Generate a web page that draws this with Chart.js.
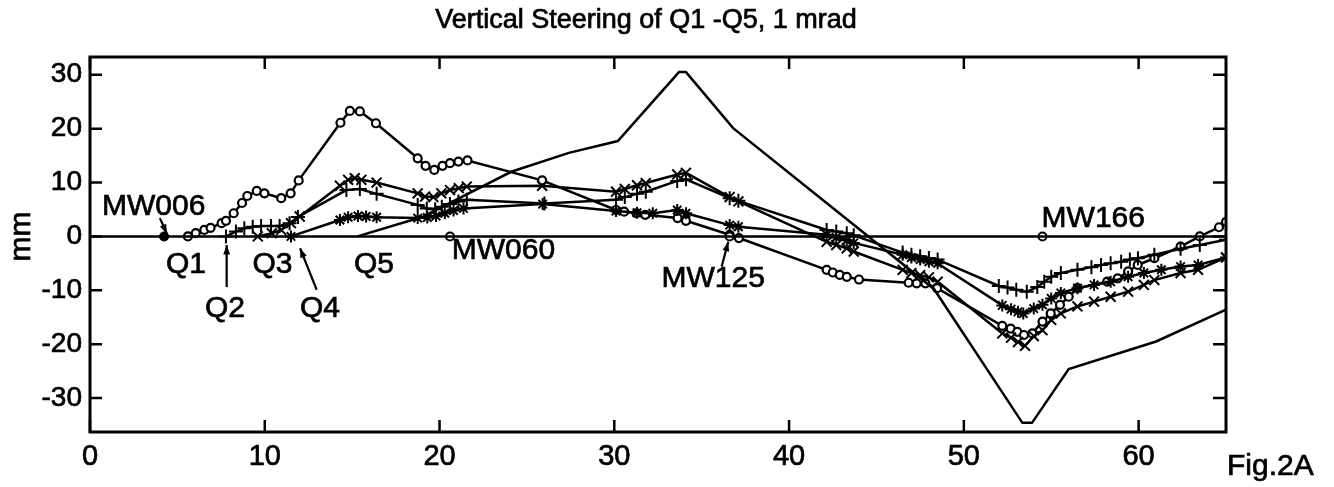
<!DOCTYPE html>
<html>
<head>
<meta charset="utf-8">
<script src="https://cdn.jsdelivr.net/npm/chart.js@4.4.1/dist/chart.umd.min.js"></script>
<style>
  html, body { margin: 0; padding: 0; background: #fff; }
  #chart { display: block; }
</style>
</head>
<body>
<canvas id="chart" width="1334" height="487"></canvas>
<script>
const xTicks = [0, 10, 20, 30, 40, 50, 60];
const yTicks = [-30, -20, -10, 0, 10, 20, 30];

// Q1 steering (circles)
const q1X = [5.6, 6.05, 6.54, 6.9, 7.53, 7.78, 8.22, 8.7, 9.0, 9.54, 9.98, 10.94, 11.48, 11.94, 14.33, 14.87, 15.44, 16.36, 18.75, 19.2, 19.7, 20.17, 20.6, 21.08, 21.6, 25.87, 30.1, 30.56, 31.27, 31.77, 33.62, 34.1, 36.6, 37.13, 42.15, 42.5, 42.9, 43.3, 44.0, 46.84, 47.3, 47.8, 48.47, 52.2, 52.68, 53.06, 53.44, 53.92, 54.5, 54.97, 55.5, 56.0, 56.5, 58.2, 58.8, 59.4, 59.95, 60.9, 62.4, 63.5, 64.6, 65];
const q1Y = [0, 0.6, 1.2, 1.6, 2.45, 2.9, 4.3, 6.2, 7.5, 8.45, 8.0, 7.1, 8.0, 10.4, 21.1, 23.3, 23.2, 21.0, 14.5, 13.1, 12.35, 13.1, 13.6, 13.9, 14.1, 10.4, 4.9, 4.6, 4.3, 4.0, 3.4, 2.9, 0.3, -0.3, -6.2, -6.7, -7.15, -7.5, -8.0, -8.6, -8.7, -8.7, -9.6, -16.6, -17.1, -17.7, -18.3, -18.0, -15.8, -14.3, -12.7, -11.2, -9.6, -8.4, -7.8, -6.5, -5.3, -4.05, -1.9, 0, 1.7, 2.7];

// Q2 steering (+)
const q2X = [7.78, 8.35, 8.83, 9.31, 9.79, 10.36, 10.85, 11.42, 11.9, 14.67, 15.44, 16.4, 18.75, 19.27, 19.75, 20.13, 20.6, 21.08, 21.56, 26.0, 30.1, 30.6, 31.3, 31.8, 33.6, 34.1, 36.6, 37.1, 42.15, 42.7, 43.3, 43.7, 46.5, 47.0, 47.5, 48.0, 48.5, 52.0, 52.5, 53.0, 53.6, 54.2, 54.6, 55.0, 55.55, 56.5, 57.3, 57.85, 58.4, 59.0, 59.5, 59.96, 60.9, 62.4, 63.5, 65];
const q2Y = [0, 0.9, 1.5, 1.8, 1.95, 1.95, 1.95, 2.45, 3.6, 8.6, 8.8, 7.9, 5.85, 5.2, 5.05, 5.5, 6.0, 6.5, 6.8, 6.1, 6.8, 7.3, 7.9, 8.3, 10.3, 10.6, 7.1, 6.6, 1.2, 0.9, 0.6, 0.2, -3.0, -3.4, -3.7, -4.0, -4.3, -9.2, -9.5, -9.9, -10.25, -9.4, -8.4, -7.5, -6.8, -6.2, -5.7, -5.3, -5.0, -4.7, -4.3, -4.05, -3.4, -2.3, -1.6, -0.6];

// Q3 steering (x)
const q3X = [9.6, 10.4, 10.94, 11.5, 12.0, 14.3, 14.77, 15.15, 15.53, 16.4, 18.75, 19.17, 19.65, 20.1, 20.6, 21.1, 21.56, 25.87, 30.1, 30.6, 31.3, 31.8, 33.6, 34.1, 36.6, 37.1, 42.15, 42.7, 43.3, 43.7, 46.5, 47.0, 47.5, 48.0, 48.5, 52.2, 52.7, 53.1, 53.5, 54.0, 54.5, 55.0, 55.55, 56.5, 57.45, 58.4, 59.4, 60.3, 60.9, 62.4, 63.4, 65];
const q3Y = [0, 0.6, 1.2, 2.45, 3.7, 9.4, 10.5, 10.8, 10.5, 10.0, 8.0, 7.4, 7.3, 8.0, 8.6, 8.95, 9.25, 9.4, 8.3, 8.8, 9.5, 9.9, 11.5, 11.8, 7.3, 6.5, -1.0, -1.6, -2.2, -2.8, -6.2, -6.8, -7.2, -7.6, -8.4, -18.0, -18.8, -19.6, -20.3, -18.5, -17.4, -15.5, -14.3, -13.0, -12.1, -11.2, -10.25, -9.0, -8.1, -6.8, -6.2, -3.9];

// Q4 steering (*)
const q4X = [11.5, 14.3, 14.77, 15.33, 15.8, 16.4, 18.75, 19.3, 19.8, 20.3, 20.8, 21.37, 25.9, 30.1, 31.3, 32.2, 33.6, 34.1, 36.6, 37.1, 42.15, 42.7, 43.3, 43.7, 46.5, 47.0, 47.5, 48.0, 48.5, 52.2, 52.7, 53.1, 53.4, 54.0, 54.5, 55.0, 55.55, 56.5, 57.45, 58.4, 59.4, 60.3, 61.3, 62.4, 63.4, 65];
const q4Y = [0, 3.05, 3.57, 3.8, 3.7, 3.57, 3.4, 3.5, 3.8, 4.3, 4.8, 5.2, 6.0, 4.7, 4.4, 4.3, 4.9, 4.3, 2.1, 1.8, 0.3, -0.2, -0.7, -1.2, -3.4, -3.9, -4.3, -4.7, -5.0, -12.8, -13.5, -14.0, -14.3, -13.4, -12.7, -11.5, -10.5, -9.6, -9.0, -8.4, -7.5, -6.8, -6.2, -5.6, -5.3, -3.9];

// Q5 steering (plain line)
const q5X = [15.3, 19.0, 24.1, 27.4, 30.2, 33.7, 34.1, 36.8, 48.3, 53.35, 53.9, 56.0, 61.0, 65];
const q5Y = [0, 3.6, 12.0, 15.5, 17.7, 30.5, 30.5, 20.1, -9.8, -34.6, -34.6, -24.6, -19.5, -13.6];

// reference orbit and monitors
const refX = [0, 65];
const refY = [0, 0];
const monitorX = [4.24, 20.6, 36.6, 54.5];
const monitorY = [0, 0, 0, 0];

function pts(xs, ys) {
  return xs.map((x, i) => ({ x: x, y: ys[i] }));
}

const FONT = '"Liberation Sans", Arial, sans-serif';

// text a bit heavier, like the scanned original
function txt(ctx, s, x, y) {
  ctx.fillText(s, x, y);
  ctx.strokeText(s, x, y);
}

function arrow(ctx, x1, y1, x2, y2) {
  const a = Math.atan2(y2 - y1, x2 - x1);
  ctx.beginPath();
  ctx.moveTo(x1, y1);
  ctx.lineTo(x2, y2);
  ctx.stroke();
  ctx.beginPath();
  ctx.moveTo(x2, y2);
  ctx.lineTo(x2 - 10 * Math.cos(a - 0.35), y2 - 10 * Math.sin(a - 0.35));
  ctx.lineTo(x2 - 10 * Math.cos(a + 0.35), y2 - 10 * Math.sin(a + 0.35));
  ctx.closePath();
  ctx.fill();
}

const decor = {
  id: 'decor',
  afterDatasetsDraw(chart) {
    const ctx = chart.ctx;
    const a = chart.chartArea;
    const xs = chart.scales.x, ys = chart.scales.y;
    ctx.save();
    ctx.strokeStyle = '#000';
    ctx.lineWidth = 3;
    ctx.strokeRect(a.left, a.top, a.right - a.left, a.bottom - a.top);
    ctx.lineWidth = 2.5;
    ctx.beginPath();
    xTicks.forEach(v => {
      const px = xs.getPixelForValue(v);
      ctx.moveTo(px, a.bottom); ctx.lineTo(px, a.bottom - 12);
      ctx.moveTo(px, a.top); ctx.lineTo(px, a.top + 12);
    });
    yTicks.forEach(v => {
      const py = ys.getPixelForValue(v);
      ctx.moveTo(a.left, py); ctx.lineTo(a.left + 12, py);
      ctx.moveTo(a.right, py); ctx.lineTo(a.right - 13, py);
    });
    ctx.stroke();
    ctx.restore();
  },
  afterDraw(chart) {
    const ctx = chart.ctx;
    const a = chart.chartArea;
    const xs = chart.scales.x, ys = chart.scales.y;
    const X = v => xs.getPixelForValue(v);
    const Y = v => ys.getPixelForValue(v);
    ctx.save();
    ctx.fillStyle = '#000';
    ctx.strokeStyle = '#000';
    ctx.lineWidth = 0.7;
    ctx.textBaseline = 'middle';

    // tick labels
    ctx.font = '29px ' + FONT;
    ctx.textAlign = 'center';
    xTicks.forEach(v => txt(ctx, String(v), X(v), a.bottom + 25));
    ctx.font = '28px ' + FONT;
    ctx.textAlign = 'right';
    yTicks.forEach(v => txt(ctx, String(v), a.left - 8, Y(v)));

    // title
    ctx.font = '27px ' + FONT;
    ctx.textAlign = 'center';
    txt(ctx, 'Vertical Steering of Q1 -Q5, 1 mrad', 646, 21);

    // y title
    ctx.save();
    ctx.translate(22, Y(0));
    ctx.rotate(-Math.PI / 2);
    ctx.font = '30px ' + FONT;
    txt(ctx, 'mm', 0, 0);
    ctx.restore();

    // annotations
    ctx.font = '30px ' + FONT;
    ctx.textAlign = 'left';
    txt(ctx, 'MW006', X(0.69), Y(5.6));
    txt(ctx, 'MW060', X(20.7), Y(-2.7));
    txt(ctx, 'MW125', X(32.7), Y(-7.9));
    txt(ctx, 'MW166', X(54.45), Y(3.2));
    ctx.textAlign = 'center';
    txt(ctx, 'Q1', X(5.49), Y(-5.3));
    txt(ctx, 'Q2', X(7.72), Y(-13.5));
    txt(ctx, 'Q3', X(10.44), Y(-5.3));
    txt(ctx, 'Q4', X(13.16), Y(-13.5));
    txt(ctx, 'Q5', X(16.25), Y(-5.3));
    ctx.textAlign = 'left';
    txt(ctx, 'Fig.2A', a.right + 1, a.bottom + 35);

    ctx.lineWidth = 2.2;
    arrow(ctx, X(4.0), Y(3.4), X(4.4), Y(0.5));
    arrow(ctx, X(7.82), Y(-9.4), X(7.82), Y(-1.6));
    arrow(ctx, X(12.97), Y(-9.9), X(12.02), Y(-2.2));
    arrow(ctx, X(36.14), Y(-5.6), X(36.52), Y(-1.0));
    ctx.restore();
  }
};

const base = { borderColor: '#000', borderWidth: 2.5, tension: 0, pointBorderColor: '#000', pointHoverRadius: 0 };

new Chart(document.getElementById('chart'), {
  type: 'line',
  data: {
    datasets: [
      Object.assign({}, base, { label: 'ref', data: pts(refX, refY), pointRadius: 0 }),
      Object.assign({}, base, { label: 'monitors', data: pts(monitorX, monitorY), showLine: false,
        pointStyle: 'circle', pointRadius: 4, pointBorderWidth: 2,
        pointBackgroundColor: c => c.dataIndex === 0 ? '#000' : '#fff' }),
      Object.assign({}, base, { label: 'Q5', data: pts(q5X, q5Y), pointRadius: 0 }),
      Object.assign({}, base, { label: 'Q4', data: pts(q4X, q4Y), pointStyle: 'star', pointRadius: 6, pointBorderWidth: 2 }),
      Object.assign({}, base, { label: 'Q3', data: pts(q3X, q3Y), pointStyle: 'crossRot', pointRadius: 7, pointBorderWidth: 2 }),
      Object.assign({}, base, { label: 'Q2', data: pts(q2X, q2Y), pointStyle: 'cross', pointRadius: 7, pointBorderWidth: 2 }),
      Object.assign({}, base, { label: 'Q1', data: pts(q1X, q1Y), pointStyle: 'circle', pointRadius: 4, pointBorderWidth: 2.2, pointBackgroundColor: '#fff' })
    ]
  },
  options: {
    responsive: false,
    animation: false,
    devicePixelRatio: 1,
    layout: { padding: { top: 57, right: 108, left: 0, bottom: 0 } },
    plugins: { legend: { display: false }, tooltip: { enabled: false }, title: { display: false } },
    scales: {
      x: {
        type: 'linear', min: 0, max: 65,
        afterBuildTicks: s => { s.ticks = xTicks.map(v => ({ value: v })); },
        afterFit: s => { s.height = 55; },
        ticks: { display: false }, grid: { display: false }, border: { display: false }
      },
      y: {
        type: 'linear', min: -36.3, max: 33.3,
        afterBuildTicks: s => { s.ticks = yTicks.map(v => ({ value: v })); },
        afterFit: s => { s.width = 90; },
        ticks: { display: false }, grid: { display: false }, border: { display: false }
      }
    }
  },
  plugins: [decor]
});
</script>
</body>
</html>
